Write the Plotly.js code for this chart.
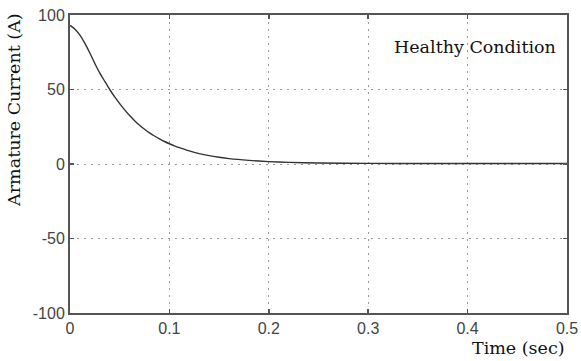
<!DOCTYPE html>
<html><head><meta charset="utf-8">
<script src="https://cdn.plot.ly/plotly-3.0.1.min.js"></script>
<style>html,body{margin:0;padding:0;background:#fff}#chart{width:581px;height:361px}</style>
</head><body><div id="chart"></div>
<script>
const timeSec = [0, 0.005, 0.01, 0.015, 0.02, 0.025, 0.03, 0.035, 0.04, 0.045, 0.05, 0.055, 0.06, 0.065, 0.07, 0.075, 0.08, 0.085, 0.09, 0.095, 0.1, 0.105, 0.11, 0.12, 0.13, 0.14, 0.15, 0.16, 0.18, 0.2, 0.22, 0.25, 0.3, 0.35, 0.4, 0.45, 0.5];
const armatureCurrent = [93, 90.5, 86.5, 81, 74.5, 67.5, 61, 55.5, 50, 45, 40.5, 36.3, 32.5, 29.1, 26, 23.3, 20.9, 18.8, 16.9, 15.1, 13.6, 12.2, 11, 8.8, 7, 5.6, 4.5, 3.6, 2.4, 1.6, 1.1, 0.7, 0.4, 0.3, 0.3, 0.3, 0.3];
const xTicks = [0, 0.1, 0.2, 0.3, 0.4, 0.5];
const xTickText = ['0', '0.1', '0.2', '0.3', '0.4', '0.5'];
const yTicks = [-100, -50, 0, 50, 100];
const yTickText = ['-100', '-50', '0', '50', '100'];
const annotationText = 'Healthy Condition';

const serif = 'DejaVu Serif, Georgia, serif';
const axisCommon = {
  showline: true, mirror: 'ticks', linecolor: '#555', linewidth: 2,
  ticks: 'inside', ticklen: 4, tickcolor: '#555', tickwidth: 1.5,
  showgrid: true, gridcolor: '#999', griddash: '2px,5px', gridwidth: 1,
  zeroline: false, tickmode: 'array',
  tickfont: {family: 'Liberation Sans, Arial, sans-serif', size: 16, color: '#444'}
};

Plotly.newPlot('chart', [{
  x: timeSec, y: armatureCurrent, type: 'scatter', mode: 'lines',
  line: {color: '#333', width: 1.4, shape: 'spline', smoothing: 0.5}, hoverinfo: 'skip'
}], {
  width: 581, height: 361,
  margin: {l: 70, r: 14, t: 15, b: 48},
  paper_bgcolor: '#fff', plot_bgcolor: '#fff', showlegend: false,
  xaxis: Object.assign({}, axisCommon, {range: [0, 0.5], tickvals: xTicks, ticktext: xTickText,
    title: {text: ''}}),
  yaxis: Object.assign({}, axisCommon, {range: [-100, 100], tickvals: yTicks, ticktext: yTickText,
    title: {text: ''}}),
  annotations: [
    {text: annotationText, xref: 'paper', yref: 'paper', x: 0.982, y: 0.893, xanchor: 'right', yanchor: 'middle',
     showarrow: false, font: {family: serif, size: 17.5, color: '#111'}},
    {text: 'Time (sec)', xref: 'paper', yref: 'paper', x: 1, y: -0.117, xanchor: 'right', yanchor: 'middle',
     showarrow: false, font: {family: serif, size: 17.5, color: '#111'}},
    {text: 'Armature Current (A)', xref: 'paper', yref: 'paper', x: -0.113, xanchor: 'center', y: 0.681, yanchor: 'middle',
     textangle: -90, showarrow: false, font: {family: serif, size: 17.5, color: '#111'}}
  ]
}, {staticPlot: true});
</script></body></html>
